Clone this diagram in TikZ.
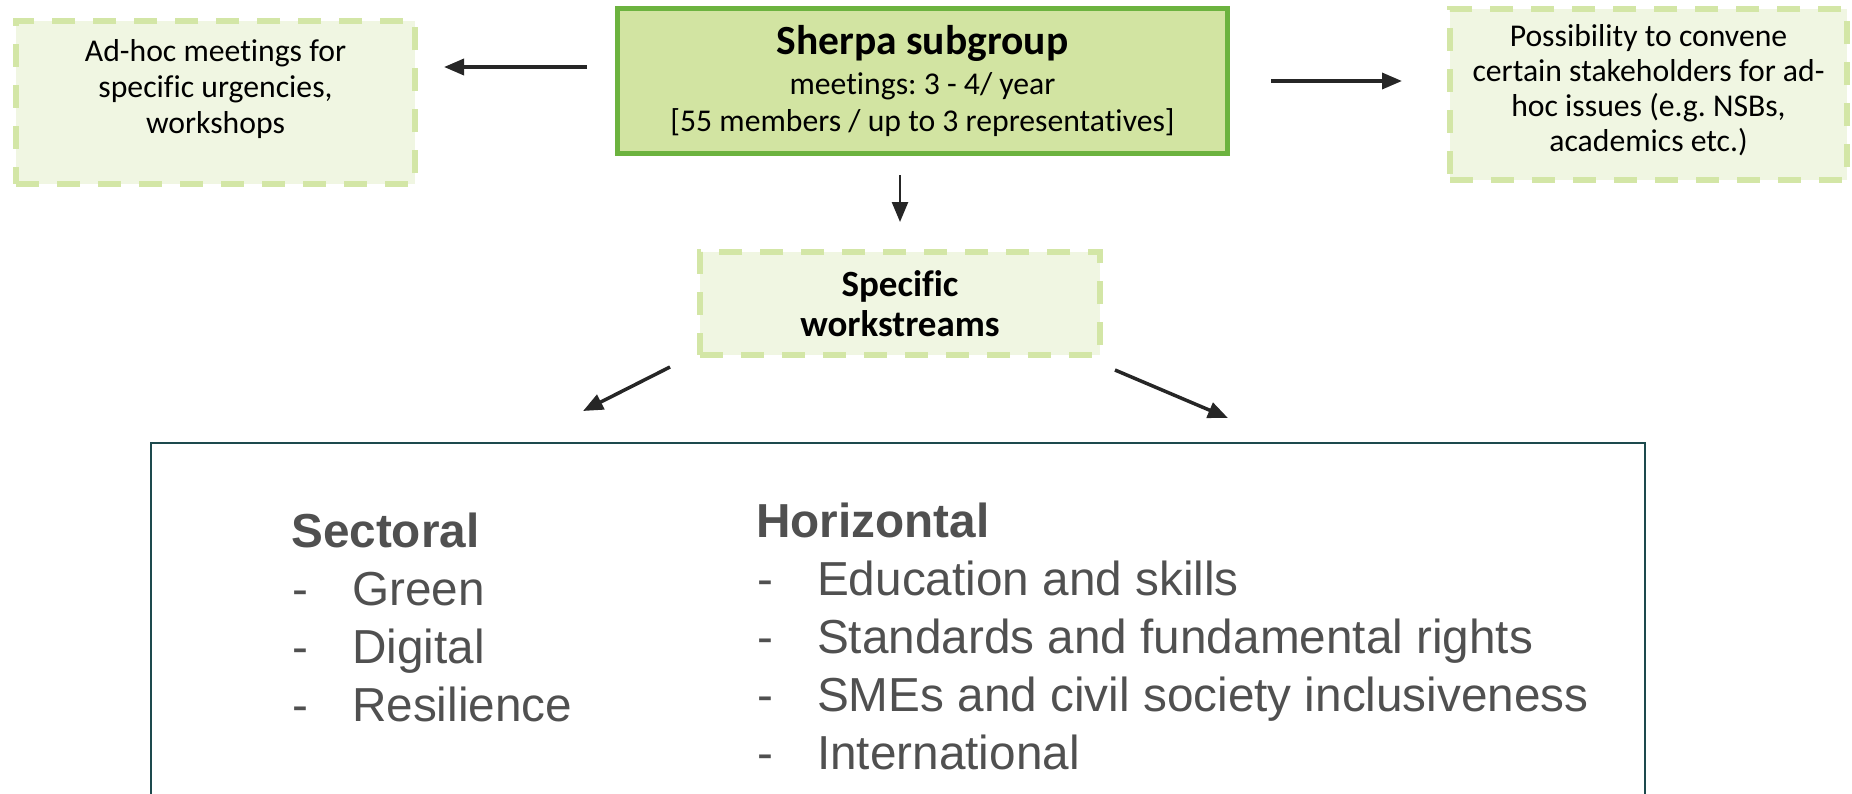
\documentclass[tikz,border=0pt]{standalone}
\usepackage{fontspec}
\setmainfont{Carlito}[Ligatures=NoCommon]
\newfontfamily\arialfont{Liberation Sans}
\usetikzlibrary{arrows.meta}
\frenchspacing

\definecolor{sherpafill}{HTML}{D2E4A2}
\definecolor{sherpaline}{HTML}{6CB33F}
\definecolor{softfill}{HTML}{F0F6E2}
\definecolor{softline}{HTML}{D3E6A6}
\definecolor{frameline}{HTML}{1D4A4D}
\definecolor{listgray}{HTML}{505050}
\definecolor{arrowgray}{HTML}{262626}

\tikzset{
  softbox/.style={draw=softline, fill=softfill, line width=6pt, dash pattern=on 23pt off 18pt},
  mainbox/.style={draw=sherpaline, fill=sherpafill, line width=5pt},
  boxtext/.style={align=center, inner sep=0pt, font=\fontsize{31.7}{36}\selectfont},
  listtext/.style={text=listgray, inner sep=0pt, font=\arialfont\fontsize{47.7}{58}\selectfont},
  arr/.style={draw=arrowgray, line width=3.5pt, -{Triangle[length=20pt,width=16pt]}},
}
\newcommand{\listdash}{\makebox[61pt][l]{\hspace*{1pt}-}}

\begin{document}
\begin{tikzpicture}[x=1pt, y=-1pt]
  \path[use as bounding box] (0,0) rectangle (1852,793);

  % top row
  \node[mainbox, minimum width=610pt, minimum height=145pt, align=center, font=\fontsize{31.7}{37}\selectfont] (sherpa) at (922.5,81)
    {{\fontsize{41.5}{43}\selectfont\bfseries Sherpa subgroup}\\[3pt] meetings: 3 - 4/ year\\{}[55 members / up to 3 representatives]};

  \node[softbox, minimum width=399pt, minimum height=163pt] (adhoc) at (215.5,102.5) {};
  \node[boxtext] (adhoctext) at ([yshift=13pt]adhoc.center) {Ad-hoc meetings for\\specific urgencies,\\workshops};

  \node[softbox, minimum width=397pt, minimum height=171pt] (convene) at (1648.5,94.5) {};
  \node[boxtext, font=\fontsize{31.7}{35}\selectfont] (convenetext) at ([yshift=4pt]convene.center) {Possibility to convene\\certain stakeholders for ad-\\hoc issues (e.g. NSBs,\\academics etc.)};

  % workstreams
  \node[softbox, minimum width=400pt, minimum height=103pt] (work) at (900,303.5) {};
  \node[boxtext, font=\bfseries\fontsize{37}{40}\selectfont] (worktext) at (work.center) {Specific\\workstreams};

  \coordinate (sectaim) at (583,411);
  \coordinate (horizaim) at (1228,418);

  % arrows
  \draw[arr, shorten <=28pt, shorten >=26pt] (sherpa.west |- 0,67) -- (adhoc.east |- 0,67);
  \draw[arr, shorten <=41pt, shorten >=45pt] (sherpa.east |- 0,81) -- (convene.west |- 0,81);
  \draw[arr, line width=2.5pt, shorten <=19pt, shorten >=27pt] (sherpa.south -| work.north) -- (work.north);
  \draw[arr] ([xshift=-27pt, yshift=-9pt]work.south west) -- (sectaim);
  \draw[arr] ([xshift=12pt, yshift=-12pt]work.south east) -- (horizaim);

  % bottom frame
  \draw[draw=frameline, line width=2.5pt] (151,443) rectangle (1645,815);

  \node[listtext, anchor=base west] (sectoral) at (291,547)
    {\begin{tabular}[t]{@{}l@{}}\textbf{Sectoral}\\\listdash Green\\\listdash Digital\\\listdash Resilience\end{tabular}};
  \node[listtext, anchor=base west] (horizontal) at (756,537)
    {\begin{tabular}[t]{@{}l@{}}\textbf{Horizontal}\\\listdash Education and skills\\\listdash Standards and fundamental rights\\\listdash SMEs and civil society inclusiveness\\\listdash International\end{tabular}};
\end{tikzpicture}
\end{document}
